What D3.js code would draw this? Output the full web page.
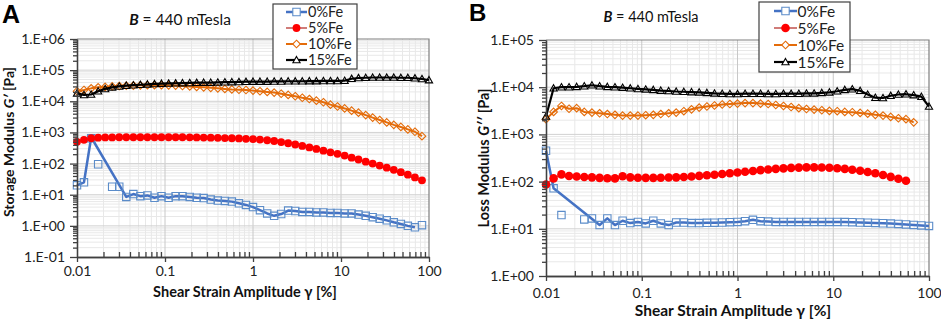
<!DOCTYPE html>
<html>
<head>
<meta charset="utf-8">
<script src="https://cdn.jsdelivr.net/npm/d3@7"></script>
<style>
  body { margin: 0; background: #fff; }
  svg { display: block; font-family: Lato, "Open Sans", sans-serif; }
</style>
</head>
<body>
<svg id="chart" width="941" height="325"></svg>
<script>
// Strain amplitude sweep, 12.5 points per decade (same grid for both panels)
const strain = [
  0.0100, 0.0120, 0.0145, 0.0174, 0.0209, 0.0251, 0.0302, 0.0363, 0.0437, 0.0525,
  0.0631, 0.0759, 0.0912, 0.110, 0.132, 0.158, 0.191, 0.229, 0.275, 0.331,
  0.398, 0.479, 0.575, 0.692, 0.832, 1.00, 1.20, 1.45, 1.74, 2.09,
  2.51, 3.02, 3.63, 4.37, 5.25, 6.31, 7.59, 9.12, 11.0, 13.2,
  15.8, 19.1, 22.9, 27.5, 33.1, 39.8, 47.9, 57.5, 69.2, 83.2, 100
];

const seriesNames = ["0%Fe", "5%Fe", "10%Fe", "15%Fe"];
const xTicks = [0.01, 0.1, 1, 10, 100];
const xTickLabels = ["0.01", "0.1", "1", "10", "100"];

// ---- Panel A: storage modulus G' [Pa]
const yTicksA = [0.1, 1, 10, 100, 1e3, 1e4, 1e5, 1e6];
const yLabelsA = ["1.E-01", "1.E+00", "1.E+01", "1.E+02", "1.E+03", "1.E+04", "1.E+05", "1.E+06"];

const g0A = [
  20, 25, 650, 95, null, 18, 18, 8.5, 10.5, 9,
  9.5, 8, 9, 8, 9, 9, 8.5, 8, 7.8, 7,
  6.5, 6.3, 6, 5.3, 4.7, 4.0, 3.2, 2.5, 2.1, 2.4,
  3.1, 3.0, 2.8, 2.8, 2.7, 2.7, 2.6, 2.6, 2.5, 2.5,
  2.3, 2.1, 1.9, 1.7, 1.5, 1.3, 1.15, 1.0, 0.9, 1.05, null
];
// the 0%Fe curve in A is a separate line that skips the scattered early points
const g0LineA = [
  20, 25, 700, null, null, null, null, 8.5, 10.5, 9,
  9.5, 8, 9, 8, 9, 9, 8.5, 8, 7.8, 7,
  6.5, 6.3, 6, 5.3, 4.7, 4.0, 3.2, 2.5, 2.1, 2.4,
  3.1, 3.0, 2.8, 2.8, 2.7, 2.7, 2.6, 2.6, 2.5, 2.5,
  2.3, 2.1, 1.9, 1.7, 1.5, 1.3, 1.15, 1.0, 0.9, null, null
];
const g5A = [
  500, 580, 650, 680, 690, 690, 700, 700, 700, 700,
  700, 700, 700, 700, 700, 700, 695, 690, 685, 680,
  670, 660, 650, 640, 625, 610, 590, 560, 530, 490,
  450, 410, 370, 330, 295, 260, 230, 205, 180, 155,
  135, 115, 100, 86, 74, 63, 53, 44, 36, 29, null
];
const g10A = [
  2.1e4, 2.3e4, 2.6e4, 2.8e4, 2.9e4, 3.0e4, 3.1e4, 3.15e4, 3.2e4, 3.25e4,
  3.3e4, 3.3e4, 3.3e4, 3.25e4, 3.2e4, 3.1e4, 3.0e4, 2.9e4, 2.8e4, 2.7e4,
  2.6e4, 2.5e4, 2.4e4, 2.35e4, 2.3e4, 2.2e4, 2.1e4, 2.0e4, 1.9e4, 1.75e4,
  1.6e4, 1.45e4, 1.3e4, 1.18e4, 1.05e4, 9.3e3, 7.8e3, 6.8e3, 5.9e3, 5.0e3,
  4.3e3, 3.6e3, 3.0e3, 2.5e3, 2.1e3, 1.75e3, 1.5e3, 1.25e3, 1.05e3, 760, null
];
const g15A = [
  1.8e4, 1.6e4, 1.65e4, 2.1e4, 2.5e4, 2.8e4, 3.0e4, 3.2e4, 3.3e4, 3.4e4,
  3.5e4, 3.6e4, 3.7e4, 3.75e4, 3.8e4, 3.85e4, 3.9e4, 3.95e4, 4.0e4, 4.0e4,
  4.05e4, 4.1e4, 4.15e4, 4.2e4, 4.25e4, 4.3e4, 4.3e4, 4.3e4, 4.35e4, 4.35e4,
  4.4e4, 4.4e4, 4.4e4, 4.45e4, 4.45e4, 4.5e4, 4.5e4, 4.5e4, 4.6e4, 5.3e4,
  5.6e4, 5.7e4, 5.8e4, 5.8e4, 5.8e4, 5.8e4, 5.7e4, 5.7e4, 5.5e4, 5.2e4, 4.8e4
];

// ---- Panel B: loss modulus G'' [Pa]
const yTicksB = [1, 10, 100, 1e3, 1e4, 1e5];
const yLabelsB = ["1.E+00", "1.E+01", "1.E+02", "1.E+03", "1.E+04", "1.E+05"];

const g0B = [
  450, 72, 19.5, null, null, 15.8, 16.6, 12, 16.6, 12,
  14.8, 13.2, 14, 13, 14.8, 13, 12, 13.6, 13.6, 13.2,
  13.2, 13.4, 13.5, 13.6, 13.8, 14, 14.5, 15.5, 14.5, 14.2,
  14, 14, 14, 14, 14, 14, 14, 14, 14, 13.9,
  13.8, 13.6, 13.5, 13.3, 13.1, 12.9, 12.7, 12.4, 12.1, 11.8, 11.5
];
const g0LineB = [
  450, 72, null, null, null, null, null, 12, 16.6, 12,
  14.8, 13.2, 14, 13, 14.8, 13, 12, 13.6, 13.6, 13.2,
  13.2, 13.4, 13.5, 13.6, 13.8, 14, 14.5, 15.5, 14.5, 14.2,
  14, 14, 14, 14, 14, 14, 14, 14, 14, 13.9,
  13.8, 13.6, 13.5, 13.3, 13.1, 12.9, 12.7, 12.4, 12.1, 11.8, 11.5
];
const g5B = [
  87, 117, 142, 131, 128, 125, 123, 120, 118, 117,
  130, 123, 121, 120, 120, 121, 122, 123, 125, 128,
  132, 136, 140, 145, 150, 156, 162, 168, 175, 181,
  186, 191, 195, 198, 200, 200, 199, 196, 192, 186,
  178, 170, 160, 150, 138, 126, 115, 104, null, null, null
];
const g10B = [
  2.1e3, 3.0e3, 4.0e3, 3.5e3, 3.6e3, 3.0e3, 2.9e3, 2.8e3, 2.7e3, 2.6e3,
  2.5e3, 2.5e3, 2.5e3, 2.55e3, 2.6e3, 2.7e3, 2.8e3, 2.9e3, 3.1e3, 3.4e3,
  3.7e3, 3.9e3, 4.1e3, 4.3e3, 4.4e3, 4.5e3, 4.6e3, 4.6e3, 4.5e3, 4.4e3,
  4.2e3, 4.0e3, 3.8e3, 3.6e3, 3.45e3, 3.35e3, 3.25e3, 3.15e3, 3.1e3, 3.0e3,
  2.95e3, 2.85e3, 2.75e3, 2.6e3, 2.5e3, 2.35e3, 2.2e3, 2.1e3, 1.8e3, null, null
];
const g15B = [
  2.4e3, 9.5e3, 1.0e4, 1.0e4, 1.02e4, 1.05e4, 1.1e4, 1.05e4, 1.02e4, 1.0e4,
  9.8e3, 9.5e3, 9.2e3, 9.0e3, 8.8e3, 8.5e3, 8.3e3, 8.1e3, 8.0e3, 7.9e3,
  7.8e3, 7.6e3, 7.4e3, 7.3e3, 7.2e3, 7.2e3, 7.3e3, 7.3e3, 7.3e3, 7.2e3,
  7.2e3, 7.3e3, 7.3e3, 7.3e3, 7.4e3, 7.4e3, 7.6e3, 7.8e3, 8.2e3, 8.8e3,
  9.1e3, 8.4e3, 7.0e3, 6.0e3, 5.9e3, 6.6e3, 7.0e3, 7.1e3, 6.8e3, 6.3e3, 3.9e3
];

const styles = [
  { line: "#4472c4", width: 2.5, marker: "square", stroke: "#5b8cc9", fill: "none" },
  { line: "#c0504d", width: 1.5, marker: "circle", stroke: "#ff0000", fill: "#ff0000" },
  { line: "#e46c0a", width: 2, marker: "diamond", stroke: "#e46c0a", fill: "none" },
  { line: "#000000", width: 2.2, marker: "triangle", stroke: "#000000", fill: "none" }
];

const markerPath = {
  square: "M-3.7,-3.7h7.4v7.4h-7.4z",
  diamond: "M0,-3.8L3.8,0L0,3.8L-3.8,0Z",
  triangle: "M0,-3.6L3.6,2.8L-3.6,2.8Z"
};

const svg = d3.select("#chart");

const panels = [
  {
    letter: "A", letterPos: [2, 23], letterSize: 25,
    x0: 77, x1: 429, yTop: 39, yBottom: 257,
    yDomain: [0.1, 1e6], yTicks: yTicksA, yLabels: yLabelsA,
    series: [g0A, g5A, g10A, g15A], line0: g0LineA,
    title: [180, 25, 15.5], xTickSize: 14, xPad: 4,
    xTitle: [245, 297, 14.5], yTitle: [14, 142, 14, "Storage Modulus ", "G\u2032", " [Pa]"],
    legend: { x: 273, y: 4, w: 84, h: 65, rows: [12, 28, 44, 60], lx0: 286, lx1: 307, tx: 308, size: 14.5 },
    dot: 3.9
  },
  {
    letter: "B", letterPos: [469, 21], letterSize: 24,
    x0: 546, x1: 929, yTop: 40, yBottom: 276,
    yDomain: [1, 1e5], yTicks: yTicksB, yLabels: yLabelsB,
    series: [g0B, g5B, g10B, g15B], line0: g0LineB,
    title: [651, 22, 14.5], xTickSize: 14, xPad: 7,
    xTitle: [733, 316, 15.5], yTitle: [489, 158, 14.5, "Loss Modulus ", "G\u2032\u2032", " [Pa]"],
    legend: { x: 759, y: 2, w: 91, h: 70, rows: [11, 28, 45, 62], lx0: 774, lx1: 797, tx: 797.5, size: 15.5 },
    dot: 4.3
  }
];

function drawPanel(p) {
  const x = d3.scaleLog().domain([0.01, 100]).range([p.x0, p.x1]);
  const y = d3.scaleLog().domain(p.yDomain).range([p.yBottom, p.yTop]);
  const g = svg.append("g");

  const xMinor = [];
  for (let e = -2; e < 2; e++) for (let m = 2; m <= 9; m++) xMinor.push(m * Math.pow(10, e));
  const yMinor = [];
  const eLo = Math.round(Math.log10(p.yDomain[0])), eHi = Math.round(Math.log10(p.yDomain[1]));
  for (let e = eLo; e < eHi; e++) for (let m = 2; m <= 9; m++) yMinor.push(m * Math.pow(10, e));

  // gridlines
  g.append("g").selectAll("line").data(xMinor).join("line")
    .attr("x1", d => x(d)).attr("x2", d => x(d))
    .attr("y1", p.yTop).attr("y2", p.yBottom)
    .attr("stroke", "#e8e8e8");
  g.append("g").selectAll("line").data(yMinor).join("line")
    .attr("x1", p.x0).attr("x2", p.x1)
    .attr("y1", d => y(d)).attr("y2", d => y(d))
    .attr("stroke", "#e8e8e8");
  g.append("g").selectAll("line").data(xTicks.slice(1, -1)).join("line")
    .attr("x1", d => x(d)).attr("x2", d => x(d))
    .attr("y1", p.yTop).attr("y2", p.yBottom)
    .attr("stroke", "#c8c8c8");
  g.append("g").selectAll("line").data(p.yTicks.slice(1, -1)).join("line")
    .attr("x1", p.x0).attr("x2", p.x1)
    .attr("y1", d => y(d)).attr("y2", d => y(d))
    .attr("stroke", "#d2d2d2");

  // plot border (top/right)
  g.append("path")
    .attr("d", `M${p.x0},${p.yTop}H${p.x1}V${p.yBottom}`)
    .attr("fill", "none").attr("stroke", "#7f7f7f").attr("stroke-width", 1.2);

  // data
  const pts = arr => strain.map((s, i) => [s, arr[i]]).filter(d => d[1] != null);
  const line = d3.line().x(d => x(d[0])).y(d => y(d[1]));

  p.series.forEach((arr, si) => {
    const st = styles[si];
    const sg = g.append("g");
    sg.append("path")
      .attr("d", line(pts(si === 0 ? p.line0 : arr)))
      .attr("fill", "none").attr("stroke", st.line)
      .attr("stroke-width", st.width).attr("stroke-linejoin", "round");
    const m = sg.selectAll("g").data(pts(arr)).join("g")
      .attr("transform", d => `translate(${x(d[0])},${y(d[1])})`);
    if (st.marker === "circle") {
      m.append("circle").attr("r", p.dot).attr("fill", st.fill);
    } else {
      m.append("path").attr("d", markerPath[st.marker])
        .attr("fill", st.fill).attr("stroke", st.stroke).attr("stroke-width", 1.1);
    }
  });

  // axes
  const styleAxis = a => {
    a.selectAll(".domain, .tick line").attr("stroke", "#404040").attr("stroke-width", 1.3);
    a.selectAll("text").attr("fill", "#222").attr("font-family", "Lato, sans-serif");
  };
  g.append("g").attr("transform", `translate(${p.x0},0)`)
    .call(d3.axisLeft(y).tickValues(yMinor).tickSize(4).tickSizeOuter(0).tickFormat(""))
    .call(styleAxis);
  g.append("g").attr("transform", `translate(${p.x0},0)`)
    .call(d3.axisLeft(y).tickValues(p.yTicks).tickSize(7).tickSizeOuter(0).tickPadding(5)
      .tickFormat((d, i) => p.yLabels[i]))
    .call(styleAxis)
    .call(a => a.selectAll("text").attr("font-size", 14));
  g.append("g").attr("transform", `translate(0,${p.yBottom})`)
    .call(d3.axisBottom(x).tickValues(xMinor).tickSize(-5).tickSizeOuter(0).tickFormat(""))
    .call(styleAxis);
  g.append("g").attr("transform", `translate(0,${p.yBottom})`)
    .call(d3.axisBottom(x).tickValues(xTicks).tickSize(5).tickSizeOuter(0).tickPadding(p.xPad)
      .tickFormat((d, i) => xTickLabels[i]))
    .call(styleAxis)
    .call(a => a.selectAll("text").attr("font-size", p.xTickSize));

  // texts
  svg.append("text").attr("x", p.letterPos[0]).attr("y", p.letterPos[1])
    .attr("font-family", "Liberation Sans, Arial, sans-serif")
    .attr("font-size", p.letterSize).attr("font-weight", "bold").text(p.letter);

  const t = svg.append("text").attr("x", p.title[0]).attr("y", p.title[1])
    .attr("text-anchor", "middle").attr("font-size", p.title[2]).attr("fill", "#111");
  t.append("tspan").attr("font-weight", "bold").attr("font-style", "italic").text("B");
  t.append("tspan").text(" = 440 mTesla");

  svg.append("text").attr("x", p.xTitle[0]).attr("y", p.xTitle[1])
    .attr("text-anchor", "middle").attr("font-size", p.xTitle[2])
    .attr("font-weight", "bold").attr("fill", "#111")
    .text("Shear Strain Amplitude \u03b3 [%]");

  const yt = svg.append("text")
    .attr("transform", `translate(${p.yTitle[0]},${p.yTitle[1]}) rotate(-90)`)
    .attr("text-anchor", "middle").attr("font-size", p.yTitle[2])
    .attr("font-weight", "bold").attr("fill", "#111");
  yt.append("tspan").text(p.yTitle[3]);
  yt.append("tspan").attr("font-style", "italic").text(p.yTitle[4]);
  yt.append("tspan").text(p.yTitle[5]);

  // legend
  const L = p.legend;
  const lg = svg.append("g");
  lg.append("rect").attr("x", L.x).attr("y", L.y).attr("width", L.w).attr("height", L.h)
    .attr("fill", "#fff").attr("stroke", "#404040").attr("stroke-width", 1.2);
  seriesNames.forEach((name, i) => {
    const st = styles[i];
    const ry = L.rows[i];
    lg.append("line").attr("x1", L.lx0).attr("x2", L.lx1).attr("y1", ry).attr("y2", ry)
      .attr("stroke", st.line).attr("stroke-width", st.width);
    const mg = lg.append("g").attr("transform", `translate(${(L.lx0 + L.lx1) / 2},${ry})`);
    if (st.marker === "circle") {
      mg.append("circle").attr("r", p.dot).attr("fill", st.fill);
    } else {
      mg.append("path").attr("d", markerPath[st.marker])
        .attr("fill", "#fff").attr("stroke", st.stroke).attr("stroke-width", 1.1);
    }
    lg.append("text").attr("x", L.tx).attr("y", ry + L.size * 0.36)
      .attr("font-size", L.size).attr("fill", "#222").text(name);
  });
}

panels.forEach(drawPanel);
</script>
</body>
</html>
